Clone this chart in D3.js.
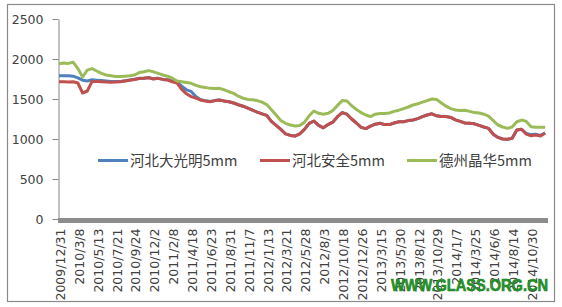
<!DOCTYPE html>
<html>
<head>
<meta charset="utf-8">
<script src="https://cdn.jsdelivr.net/npm/d3@7"></script>
<style>
  body { margin: 0; background: #fff; }
  svg { display: block; }
  .axis text { font-family: "DejaVu Sans", sans-serif; font-size: 12.5px; fill: #404040; }
</style>
</head>
<body>
<svg width="562" height="307"></svg>
<script>
// Category labels on the x axis (one every ~46 trading days)
var dateLabels = ['2009/12/31', '2010/3/8', '2010/5/13', '2010/7/21', '2010/9/24', '2010/12/2',
    '2011/2/8', '2011/4/18', '2011/6/23', '2011/8/31', '2011/11/7', '2012/1/13', '2012/3/21',
    '2012/5/28', '2012/8/3', '2012/10/18', '2012/12/26', '2013/3/15', '2013/5/30', '2013/8/12',
    '2013/10/29', '2014/1/7', '2014/3/25', '2014/6/6', '2014/8/14', '2014/10/30'];

var yTicks = [0, 500, 1000, 1500, 2000, 2500];

// values sampled every quarter of a label interval
var step = 0.25;

var daguangming = [1790, 1790, 1790, 1785, 1765, 1735, 1725, 1740, 1735, 1730,
    1725, 1720, 1718, 1720, 1728, 1738, 1748, 1760, 1760, 1768,
    1752, 1758, 1745, 1740, 1725, 1710, 1660, 1615, 1595, 1530,
    1490, 1478, 1468, 1480, 1487, 1475, 1466, 1450, 1428, 1410,
    1385, 1360, 1335, 1315, 1295, 1220, 1170, 1120, 1065, 1045,
    1037, 1065, 1120, 1195, 1225, 1170, 1140, 1180, 1210, 1279,
    1330, 1310, 1250, 1200, 1145, 1130, 1160, 1185, 1196, 1180,
    1180, 1200, 1216, 1216, 1230, 1237, 1255, 1280, 1300, 1315,
    1290, 1280, 1280, 1270, 1240, 1220, 1200, 1196, 1190, 1170,
    1150, 1133, 1060, 1020, 1000, 996, 1008, 1112, 1121, 1070,
    1055, 1060, 1045, 1075];

var anquan = [1715, 1715, 1712, 1715, 1700, 1575, 1600, 1720, 1720, 1715,
    1712, 1710, 1712, 1715, 1725, 1735, 1745, 1755, 1758, 1765,
    1750, 1758, 1745, 1738, 1715, 1700, 1620, 1565, 1530, 1510,
    1487, 1475, 1466, 1480, 1487, 1475, 1466, 1450, 1428, 1410,
    1385, 1360, 1335, 1315, 1295, 1220, 1170, 1120, 1065, 1045,
    1037, 1065, 1120, 1195, 1225, 1170, 1140, 1180, 1210, 1279,
    1330, 1310, 1250, 1200, 1145, 1130, 1160, 1185, 1196, 1180,
    1180, 1200, 1216, 1216, 1230, 1237, 1255, 1280, 1300, 1315,
    1290, 1280, 1280, 1270, 1240, 1220, 1200, 1196, 1190, 1170,
    1150, 1133, 1060, 1020, 1000, 996, 1008, 1112, 1121, 1060,
    1040, 1050, 1037, 1075];

var jinghua = [1940, 1950, 1945, 1960, 1880, 1775, 1860, 1880, 1850, 1820,
    1800, 1790, 1780, 1780, 1785, 1790, 1800, 1830, 1840, 1855,
    1840, 1820, 1800, 1785, 1760, 1725, 1715, 1705, 1696, 1670,
    1654, 1645, 1633, 1630, 1633, 1615, 1591, 1570, 1535, 1510,
    1495, 1490, 1480, 1460, 1430, 1365, 1300, 1230, 1196, 1175,
    1162, 1170, 1210, 1290, 1350, 1321, 1310, 1321, 1355, 1420,
    1480, 1475, 1415, 1370, 1330, 1300, 1280, 1310, 1320, 1318,
    1325, 1345, 1360, 1380, 1400, 1425, 1440, 1460, 1480, 1500,
    1495, 1450, 1410, 1380, 1362, 1355, 1360, 1345, 1330, 1325,
    1310, 1285, 1230, 1175, 1150, 1133, 1150, 1216, 1237, 1220,
    1154, 1146, 1146, 1146];

var seriesNames = ['河北大光明5mm', '河北安全5mm', '德州晶华5mm'];
var seriesColors = ['#4f81bd', '#c0504d', '#9bbb59'];
var seriesValues = [daguangming, anquan, jinghua];

var svg = d3.select('svg');

// outer frame
svg.append('rect')
    .attr('x', 7.5).attr('y', 4.5)
    .attr('width', 547).attr('height', 297)
    .attr('fill', 'none')
    .attr('stroke', '#8a8a8a')
    .attr('stroke-width', 1.2);

var xScale = d3.scaleLinear()
    .domain([0, 25.9])
    .range([59, 548]);

var yScale = d3.scaleLinear()
    .domain([0, 2500])
    .range([219, 19]);

// y axis
var yAxisG = svg.append('g')
    .attr('class', 'axis')
    .attr('transform', 'translate(58.5,0)')
    .call(d3.axisLeft(yScale).tickValues(yTicks).tickFormat(d3.format('d'))
        .tickSize(6).tickSizeOuter(0).tickPadding(9));
yAxisG.select('.domain').attr('stroke', '#868686');
yAxisG.selectAll('.tick line').attr('stroke', '#868686');

// lines
var line = d3.line()
    .x(function(d, i) { return xScale(i * step); })
    .y(function(d) { return yScale(d); });

seriesValues.forEach(function(values, s) {
    svg.append('path')
        .datum(values)
        .attr('fill', 'none')
        .attr('stroke', seriesColors[s])
        .attr('stroke-width', 3)
        .attr('stroke-linejoin', 'round')
        .attr('d', line);
});

// x axis (thick gray bar + rotated labels)
var xAxisG = svg.append('g')
    .attr('class', 'axis')
    .attr('transform', 'translate(0,220.5)')
    .call(d3.axisBottom(xScale)
        .tickValues(d3.range(dateLabels.length))
        .tickFormat(function(i) { return dateLabels[i]; })
        .tickSize(0).tickSizeOuter(0));
xAxisG.select('.domain')
    .attr('d', 'M' + (xScale.range()[0] - 1) + ',0H' + xScale.range()[1])
    .attr('stroke', '#8c8c8c')
    .attr('stroke-width', 5);
xAxisG.selectAll('.tick text')
    .attr('transform', 'rotate(-90)')
    .attr('x', -8)
    .attr('y', 1)
    .attr('dy', '0.35em')
    .attr('text-anchor', 'end');

// legend
var legendX = [98, 260, 407];
var legendG = svg.append('g')
    .attr('transform', 'translate(0,160.5)');
seriesNames.forEach(function(name, s) {
    legendG.append('line')
        .attr('x1', legendX[s]).attr('x2', legendX[s] + 30)
        .attr('y1', 0).attr('y2', 0)
        .attr('stroke', seriesColors[s])
        .attr('stroke-width', 3);
    legendG.append('text')
        .attr('x', legendX[s] + 32)
        .attr('y', 0)
        .attr('dy', '0.36em')
        .attr('font-family', '"Noto Sans CJK SC", sans-serif')
        .attr('font-size', 14.5)
        .attr('fill', '#404040')
        .text(name);
});

// watermark
svg.append('text')
    .attr('x', 391)
    .attr('y', 291)
    .attr('textLength', 157)
    .attr('lengthAdjust', 'spacingAndGlyphs')
    .attr('font-family', '"Liberation Sans", Arial, sans-serif')
    .attr('font-weight', 'bold')
    .attr('font-size', 16)
    .attr('fill', '#23962a')
    .attr('stroke', '#1d7f22')
    .attr('stroke-width', 0.6)
    .text('WWW.GLASS.ORG.CN');
</script>
</body>
</html>
